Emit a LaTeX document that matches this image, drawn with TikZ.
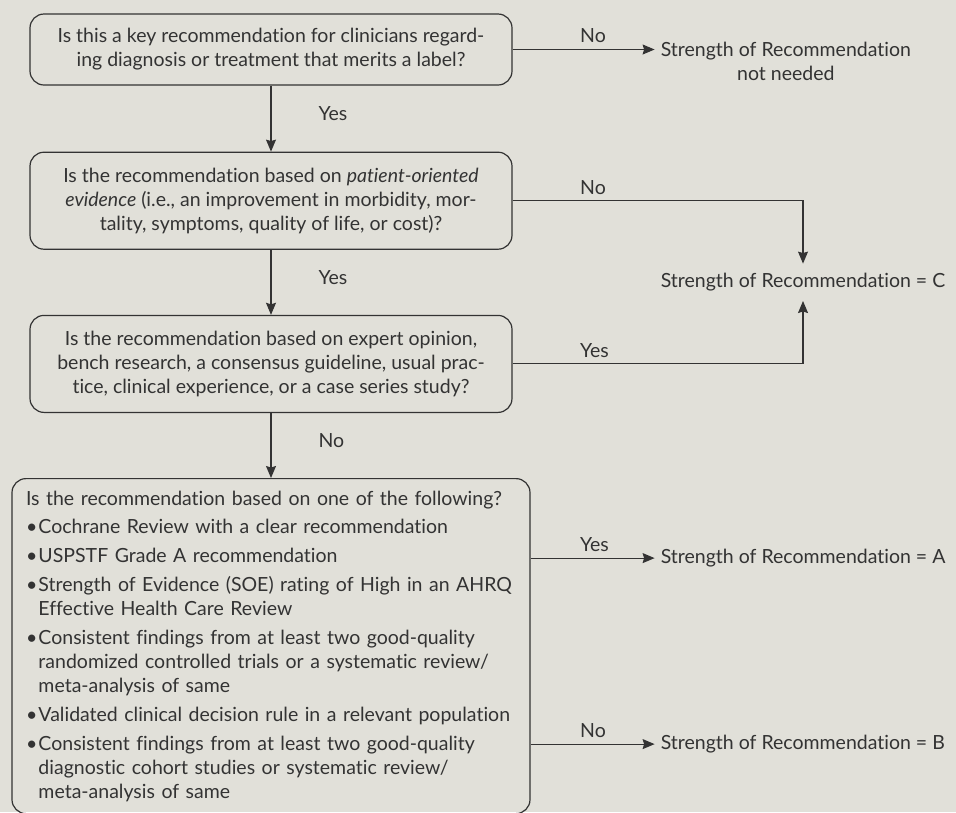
\documentclass[tikz,border=0pt]{standalone}
\usepackage{fontspec}
\setmainfont{Lato}[Ligatures={NoCommon}]
\usepackage{xcolor}
\usepackage{tikz}
\usetikzlibrary{arrows.meta, positioning, calc}
\definecolor{sortBg}{HTML}{E1E0D9}
\definecolor{sortInk}{HTML}{333333}
\newcommand{\bul}{\makebox[12.5pt][l]{\textbullet}}
\newcommand{\bulind}{\hspace*{12.5pt}}

\begin{document}
\begin{tikzpicture}[x=1pt, y=-1pt,
  every node/.style={text=sortInk, font=\fontsize{19.5}{24}\selectfont},
  qbox/.style={draw=sortInk, line width=1.2pt, rounded corners=14pt, align=center,
               minimum width=482pt, inner sep=0pt},
  outcome/.style={inner xsep=6pt, inner ysep=0pt, minimum height=37pt, align=center},
  lbl/.style={inner sep=3pt},
  side/.style={lbl, at start, anchor=south west, xshift=#1, inner ysep=6pt},
  side/.default=64pt,
  arr/.style={draw=sortInk, line width=1.1pt, -{Stealth[length=12pt,width=10pt,inset=1.5pt]}},
]
  \fill[sortBg] (0,0) rectangle (956,812);
  \useasboundingbox (0,0) rectangle (956,812);

  % questions
  \node[qbox, minimum height=71pt] (q1) at (271,49.5) {Is this a key recommendation for clinicians regard-\\ing diagnosis or treatment that merits a label?};
  \node[qbox, minimum height=97pt, below=66pt of q1] (q2) {Is the recommendation based on \textit{patient-oriented}\\\textit{evidence} (i.e., an improvement in morbidity, mor-\\tality, symptoms, quality of life, or cost)?};
  \node[qbox, minimum height=97pt, below=65pt of q2] (q3) {Is the recommendation based on expert opinion,\\bench research, a consensus guideline, usual prac-\\tice, clinical experience, or a case series study?};
  \node[qbox, minimum width=518pt, minimum height=335pt, text width=490pt, inner xsep=14pt,
        align=left, below=65pt of q3] (q4) {
    Is the recommendation based on one of the following?\\[4pt]
    \bul Cochrane Review with a clear recommendation\\[5pt]
    \bul USPSTF Grade A recommendation\\[5pt]
    \bul Strength of Evidence (SOE) rating of High in an AHRQ\\
    \bulind Effective Health Care Review\\[5pt]
    \bul Consistent findings from at least two good-quality\\
    \bulind randomized controlled trials or a systematic review/\\
    \bulind meta-analysis of same\\[5pt]
    \bul Validated clinical decision rule in a relevant population\\[5pt]
    \bul Consistent findings from at least two good-quality\\
    \bulind diagnostic cohort studies or systematic review/\\
    \bulind meta-analysis of same
  };

  % outcomes
  \node[outcome, right=142pt of q1.east, yshift=-12pt] (nn) {Strength of Recommendation\\not needed};
  \node[outcome, right=142pt of {$(q2.east)!.5!(q3.east)$}] (soC) {Strength of Recommendation = C};
  \node[outcome, right=124pt of q4.east, yshift=88pt] (soA) {Strength of Recommendation = A};
  \node[outcome, right=124pt of q4.east, yshift=-98pt] (soB) {Strength of Recommendation = B};

  % connectors
  \draw[arr] (q1) -- node[lbl, right=44pt, pos=.42] {Yes} (q2);
  \draw[arr] (q2) -- node[lbl, right=44pt, pos=.42] {Yes} (q3);
  \draw[arr] (q3) -- node[lbl, right=44pt, pos=.42] {No} (q4);
  \draw[arr] (q1.east) -- node[side] {No} (q1.east -| nn.west);
  \draw[arr] (q2.east) -| node[side] {No} (soC.north);
  \draw[arr] (q3.east) -| node[side] {Yes} (soC.south);
  \draw[arr] (q4.east |- soA) -- node[side=46pt] {Yes} (soA);
  \draw[arr] (q4.east |- soB) -- node[side=46pt] {No} (soB);
\end{tikzpicture}
\end{document}
